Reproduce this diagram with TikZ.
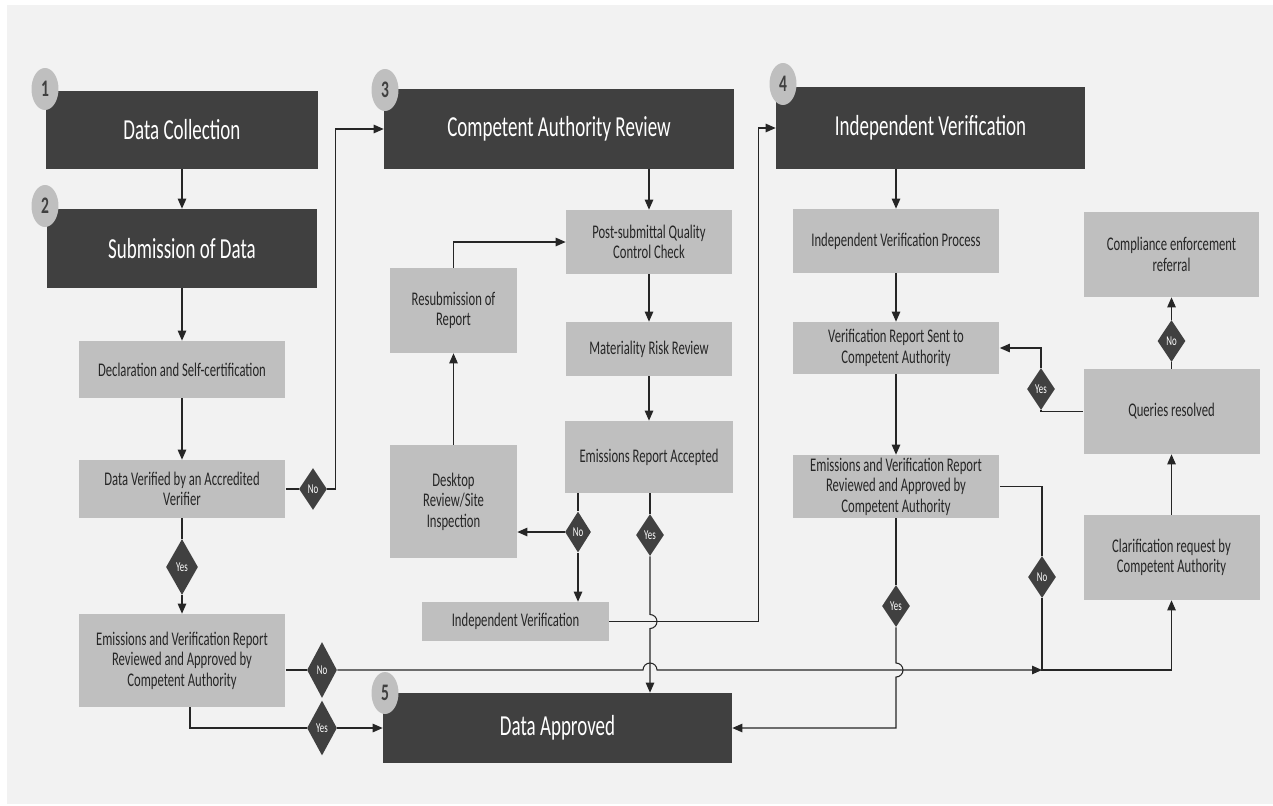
\documentclass[tikz,border=0pt]{standalone}
\usepackage{fontspec}
\setmainfont{Carlito}[FakeStretch=0.655]
\usetikzlibrary{shapes.geometric, arrows.meta, calc}

\definecolor{bggray}{HTML}{F2F2F2}
\definecolor{darkbox}{HTML}{404040}
\definecolor{lightbox}{HTML}{BFBFBF}
\definecolor{inkgray}{HTML}{262626}

\begin{document}
\begin{tikzpicture}[
    x=0.02cm, y=-0.02cm,
    headbox/.style={fill=darkbox, text=white, inner sep=0, font=\fontsize{16.5}{19}\selectfont},
    stepbox/.style={fill=lightbox, text=inkgray, inner sep=0, align=center, font=\fontsize{11}{11.6}\selectfont},
    decide/.style={diamond, fill=darkbox, text=white, inner sep=0, minimum width=.56cm, minimum height=.84cm, font=\fontsize{7.7}{8}\selectfont},
    badge/.style={ellipse, fill=lightbox, text=darkbox, inner sep=0, minimum width=.54cm, minimum height=.84cm, font=\fontsize{13.5}{13.5}\selectfont\bfseries},
    wire/.style={draw=black!85, line width=.6pt},
    conn/.style={wire, -{Triangle[length=.2cm, width=.17cm]}}
    ]
    \useasboundingbox (0,0) rectangle (1273,805);
    \fill [white] (0,0) rectangle (1273,805);
    \fill [bggray] (7,5) rectangle (1273,804);

    % stage boxes
    \node [headbox, minimum width=5.44cm, minimum height=1.56cm] (collect) at (182,130) {Data Collection};
    \node [headbox, minimum width=5.42cm, minimum height=1.58cm] (submit) at (182,248.5) {Submission of Data};
    \node [headbox, minimum width=7cm, minimum height=1.6cm] (careview) at (559,129) {Competent Authority Review};
    \node [headbox, minimum width=6.18cm, minimum height=1.64cm] (indver) at (930.5,128) {Independent Verification};
    \node [headbox, minimum width=6.98cm, minimum height=1.4cm] (approved) at (557.5,728) {Data Approved};

    % left column
    \node [stepbox, minimum width=4.14cm, minimum height=1.14cm] (declare) at (182,369.5) {Declaration and Self-certification};
    \node [stepbox, minimum width=4.14cm, minimum height=1.16cm] (verified) at (182,489) {Data Verified by an Accredited\\Verifier};
    \node [stepbox, minimum width=4.14cm, minimum height=1.86cm] (reviewL) at (182,660.5) {Emissions and Verification Report\\Reviewed and Approved by\\Competent Authority};

    % middle column
    \node [stepbox, minimum width=3.32cm, minimum height=1.28cm] (qccheck) at (649,242) {Post-submittal Quality\\Control Check};
    \node [stepbox, minimum width=3.34cm, minimum height=1.08cm] (risk) at (649,349) {Materiality Risk Review};
    \node [stepbox, minimum width=3.36cm, minimum height=1.44cm] (accepted) at (649,457) {Emissions Report Accepted};
    \node [stepbox, minimum width=2.54cm, minimum height=1.7cm] (resubmit) at (453.5,310.5) {Resubmission of\\Report};
    \node [stepbox, minimum width=2.54cm, minimum height=2.26cm] (desktop) at (453.5,501.5) {Desktop\\Review/Site\\Inspection};
    \node [stepbox, minimum width=3.74cm, minimum height=.78cm] (indsmall) at (515.5,621.5) {Independent Verification};

    % right columns
    \node [stepbox, minimum width=4.14cm, minimum height=1.28cm] (process) at (896,241) {Independent Verification Process};
    \node [stepbox, minimum width=4.14cm, minimum height=1.04cm] (sent) at (896,348) {Verification Report Sent to\\Competent Authority};
    \node [stepbox, minimum width=4.14cm, minimum height=1.26cm] (reviewR) at (896,486.5) {Emissions and Verification Report\\Reviewed and Approved by\\Competent Authority};
    \node [stepbox, minimum width=3.5cm, minimum height=1.7cm] (referral) at (1171.5,254.5) {Compliance enforcement\\referral};
    \node [stepbox, minimum width=3.52cm, minimum height=1.7cm] (queries) at (1171.5,411.5) {Queries resolved};
    \node [stepbox, minimum width=3.52cm, minimum height=1.7cm] (clarify) at (1171.5,557.5) {Clarification request by\\Competent Authority};

    % decisions
    \node [decide] (noA) at (313,489) {No};
    \node [decide, minimum width=.64cm, minimum height=1.12cm] (yesA) at (182,567) {Yes};
    \node [decide, minimum width=.6cm, minimum height=1.12cm] (noB) at (322,670) {No};
    \node [decide, minimum width=.6cm, minimum height=1.1cm] (yesB) at (322,728) {Yes};
    \node [decide, minimum width=.52cm, minimum height=.82cm] (noC) at (578,532) {No};
    \node [decide] (yesC) at (650,535) {Yes};
    \node [decide] (noD) at (1171.5,341) {No};
    \node [decide] (yesD) at (1041,389) {Yes};
    \node [decide] (noE) at (1042,577) {No};
    \node [decide] (yesE) at (896,606) {Yes};

    % step numbers
    \node [badge] (n1) at (45,89) {1};
    \node [badge] (n2) at (45,206) {2};
    \node [badge] (n3) at (385,90) {3};
    \node [badge] (n4) at (783,84) {4};
    \node [badge] (n5) at (385,693) {5};

    % left column flow
    \draw [conn] (collect) -- (submit);
    \draw [conn] (submit) -- (declare);
    \draw [conn] (declare) -- (verified);
    \draw [wire] (verified) -- (yesA);
    \draw [conn] (yesA) -- (reviewL);
    \draw [wire] (verified) -- (noA);
    \draw [conn] (noA.east) -- ++(8,0) |- (careview.west);
    \draw [wire] (reviewL.east |- noB) -- (noB.west);
    \draw [conn] (noB.east) -- ($(yesC |- noB)+(-7,0)$) arc (180:360:7) -- (noE |- noB);
    \draw [wire] ($(reviewL.south)+(8,0)$) |- (yesB.west);
    \draw [conn] (yesB.east) -- (approved.west |- yesB);

    % competent authority review
    \draw [conn] (careview.south -| qccheck) -- (qccheck.north);
    \draw [conn] (qccheck) -- (risk);
    \draw [conn] (risk) -- (accepted);
    \draw [wire] (accepted.south -| noC) -- (noC.north);
    \draw [conn] (noC.west) -- (desktop.east |- noC);
    \draw [conn] (noC.south) -- (indsmall.north -| noC);
    \draw [wire] (accepted.south -| yesC) -- (yesC.north);
    \draw [conn] (yesC.south) -- ($(yesC |- indsmall)+(0,-7)$) arc (-90:90:7) -- (approved.north -| yesC);
    \draw [conn] (indsmall.east) -- ++(149,0) |- (indver.west);
    \draw [conn] (desktop) -- (resubmit);
    \draw [conn] (resubmit.north) |- (qccheck.west);

    % independent verification
    \draw [conn] (indver.south -| process) -- (process.north);
    \draw [conn] (process) -- (sent);
    \draw [conn] (sent) -- (reviewR);
    \draw [wire] (reviewR.south -| yesE) -- (yesE.north);
    \draw [conn] (yesE.south) -- ($(yesE |- noB)+(0,-7)$) arc (-90:90:7) |- (approved.east);
    \draw [wire] (reviewR.east) -| (noE.north);
    \draw [conn] (noE.south) -- (noE |- noB) -| (clarify.south);
    \draw [conn] (clarify) -- (queries);
    \draw [wire] (queries) -- (noD);
    \draw [conn] (noD) -- (referral);
    \draw [wire] (queries.west) -| (yesD.south);
    \draw [conn] (yesD.north) |- (sent.east);
\end{tikzpicture}
\end{document}
